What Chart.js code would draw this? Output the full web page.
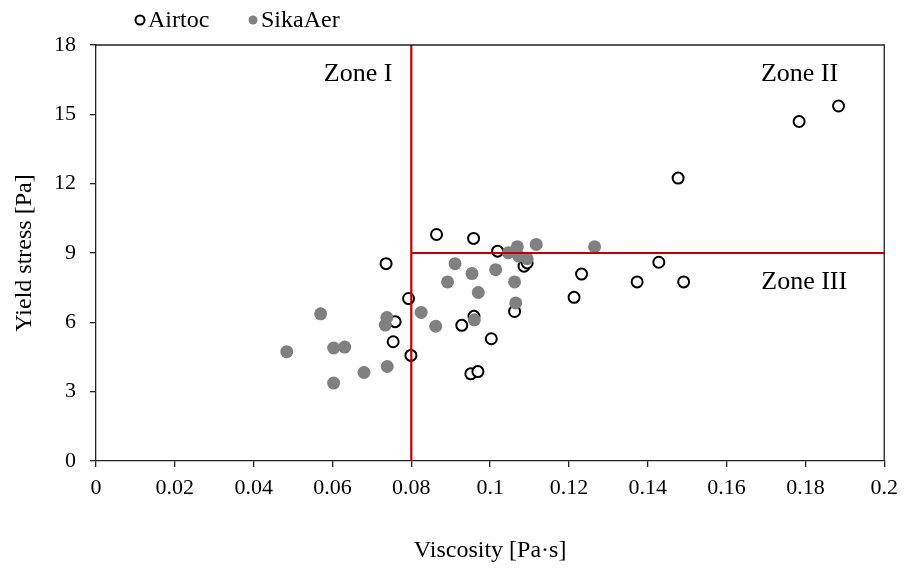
<!DOCTYPE html>
<html>
<head>
<meta charset="utf-8">
<script src="https://cdn.jsdelivr.net/npm/chart.js@4.4.1/dist/chart.umd.min.js"></script>
<style>
  html, body { margin: 0; padding: 0; background: #fff; }
  #wrap { width: 906px; height: 571px; }
</style>
</head>
<body>
<div id="wrap"><canvas id="c" width="906" height="571"></canvas></div>
<script>
// ---- data ----
const airtocX = [0.0864, 0.0958, 0.0736, 0.1019, 0.1086, 0.1094, 0.0793, 0.0759, 0.0754, 0.0799, 0.0959, 0.0928,
                 0.1003, 0.1062, 0.0951, 0.0969, 0.1213, 0.1232, 0.1373, 0.1491, 0.1428, 0.1477, 0.1784, 0.1884];
const airtocY = [9.80, 9.63, 8.54, 9.08, 8.43, 8.57, 7.03, 6.03, 5.16, 4.57, 6.26, 5.87,
                 5.29, 6.47, 3.77, 3.87, 7.08, 8.09, 7.75, 7.75, 8.60, 12.24, 14.69, 15.36];
const sikaX = [0.0911, 0.0954, 0.1014, 0.0892, 0.0970, 0.1062, 0.1065, 0.0960, 0.0825, 0.0862, 0.0570, 0.0738, 0.0734,
               0.0484, 0.0603, 0.0631, 0.0603, 0.0680, 0.0739, 0.1046, 0.1069, 0.1073, 0.1094, 0.1117, 0.1265];
const sikaY = [8.54, 8.11, 8.28, 7.75, 7.29, 7.75, 6.84, 6.11, 6.43, 5.83, 6.37, 6.21, 5.88,
               4.73, 4.89, 4.93, 3.37, 3.83, 4.09, 9.01, 9.27, 8.86, 8.75, 9.37, 9.27];
const seriesNames = ['Airtoc', 'SikaAer'];
// zone boundaries
const boundaryX = [0.08, 0.08];
const boundaryVY = [0, 18];
const boundaryHX = [0.08, 0.2];
const boundaryHY = [9, 9];
// zone labels
const zoneNames = ['Zone I', 'Zone II', 'Zone III'];
const zoneX = [0.0665, 0.1785, 0.1797];
const zoneY = [16.74, 16.74, 7.72];
// ticks
const xTickLabels = ['0', '0.02', '0.04', '0.06', '0.08', '0.1', '0.12', '0.14', '0.16', '0.18', '0.2'];
const yTickLabels = ['0', '3', '6', '9', '12', '15', '18'];

const FONT = "'Liberation Serif', 'Times New Roman', serif";
const zip = (xs, ys) => xs.map((x, i) => ({ x: x, y: ys[i] }));

const frame = {
  id: 'frame',
  afterDatasetsDraw(chart) {
    const { ctx, chartArea: a } = chart;
    ctx.save();
    ctx.strokeStyle = '#222';
    ctx.lineWidth = 1.3;
    ctx.beginPath();
    ctx.moveTo(a.left, a.top); ctx.lineTo(a.right, a.top); ctx.lineTo(a.right, a.bottom);
    ctx.stroke();
    // zone labels
    const xs = chart.scales.x, ys = chart.scales.y;
    ctx.fillStyle = '#000';
    ctx.font = "26px " + FONT;
    ctx.textAlign = 'center';
    ctx.textBaseline = 'middle';
    zoneNames.forEach((t, i) => ctx.fillText(t, xs.getPixelForValue(zoneX[i]), ys.getPixelForValue(zoneY[i])));
    ctx.restore();
  },
  afterDraw(chart) {
    // legend
    const { ctx } = chart;
    ctx.save();
    ctx.font = "24px " + FONT;
    ctx.textBaseline = 'middle';
    ctx.textAlign = 'left';
    const items = [
      { x: 140, ds: chart.data.datasets[0] },
      { x: 253, ds: chart.data.datasets[1] }
    ];
    items.forEach(it => {
      ctx.beginPath();
      ctx.arc(it.x, 20, 4.5, 0, Math.PI * 2);
      ctx.fillStyle = it.ds.backgroundColor;
      ctx.fill();
      if (it.ds.borderWidth > 0) {
        ctx.lineWidth = it.ds.borderWidth;
        ctx.strokeStyle = it.ds.borderColor;
        ctx.stroke();
      }
      ctx.fillStyle = '#000';
      ctx.fillText(it.ds.label, it.x + 8, 21);
    });
    ctx.restore();
  }
};

new Chart(document.getElementById('c'), {
  type: 'scatter',
  data: {
    datasets: [
      { label: seriesNames[0], data: zip(airtocX, airtocY), pointStyle: 'circle', pointRadius: 5.5,
        borderWidth: 2, borderColor: '#000', backgroundColor: '#fff', order: 2 },
      { label: seriesNames[1], data: zip(sikaX, sikaY), pointStyle: 'circle', pointRadius: 6.5,
        borderWidth: 0, borderColor: '#808080', backgroundColor: '#808080', order: 1 },
      { label: 'v', data: zip(boundaryX, boundaryVY), showLine: true, pointRadius: 0,
        borderColor: '#C00000', borderWidth: 2.2, order: 0 },
      { label: 'h', data: zip(boundaryHX, boundaryHY), showLine: true, pointRadius: 0,
        borderColor: '#C00000', borderWidth: 2.2, order: 0 }
    ]
  },
  options: {
    responsive: false,
    animation: false,
    events: [],
    layout: { padding: { left: 0, right: 20, top: 45, bottom: 0 } },
    plugins: { legend: { display: false }, tooltip: { enabled: false } },
    scales: {
      x: {
        type: 'linear', min: 0, max: 0.2,
        afterFit: s => { s.height = 110; },
        grid: { display: true, drawOnChartArea: false, drawTicks: true, tickLength: 6, color: '#222', lineWidth: 1.3 },
        border: { display: true, color: '#222', width: 1.3 },
        ticks: {
          stepSize: 0.02, autoSkip: false, maxRotation: 0, padding: 8, color: '#000',
          font: { family: FONT, size: 22 },
          callback: (v, i) => xTickLabels[i]
        },
        title: { display: true, text: 'Viscosity [Pa·s]', color: '#000', font: { family: FONT, size: 24 }, padding: { bottom: 6 } }
      },
      y: {
        type: 'linear', min: 0, max: 18,
        afterFit: s => { s.width = 96; },
        grid: { display: true, drawOnChartArea: false, drawTicks: true, tickLength: 6, color: '#222', lineWidth: 1.3 },
        border: { display: true, color: '#222', width: 1.3 },
        ticks: {
          stepSize: 3, padding: 14, color: '#000',
          font: { family: FONT, size: 22 },
          callback: (v, i) => yTickLabels[i]
        },
        title: { display: true, text: 'Yield stress [Pa]', color: '#000', font: { family: FONT, size: 24 }, padding: { top: 10 } }
      }
    }
  },
  plugins: [frame]
});
</script>
</body>
</html>
